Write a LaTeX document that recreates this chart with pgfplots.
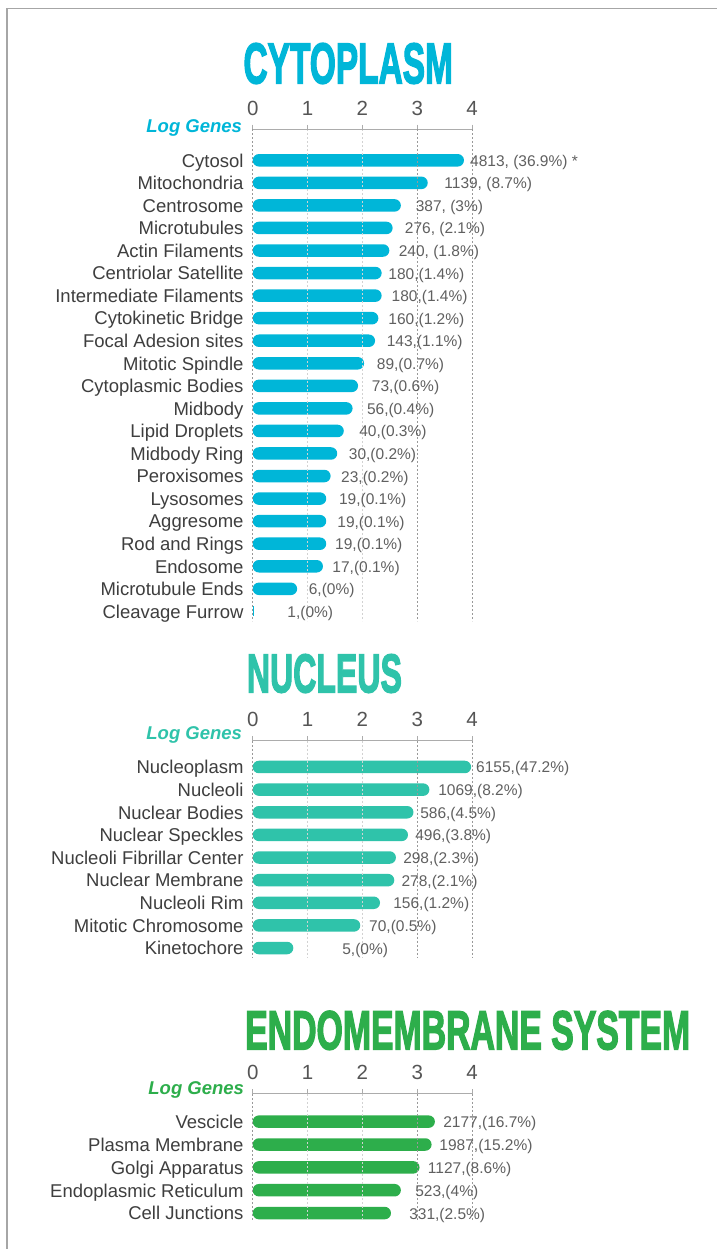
\documentclass[border=0pt]{standalone}
\usepackage{fontspec}
\setmainfont{Liberation Sans}
\usepackage{graphicx}
\usepackage{pgfplots}
\pgfplotsset{compat=1.18}
\definecolor{cyto}{RGB}{0,182,216}
\definecolor{nucl}{RGB}{47,195,170}
\definecolor{endo}{RGB}{45,174,75}
\definecolor{lab}{RGB}{62,62,62}
\definecolor{val}{RGB}{96,96,96}
\definecolor{tk}{RGB}{85,85,85}
\pgfplotsset{
 organelle/.style={
   scale only axis, width=219.5pt, xmin=0, xmax=4, y dir=reverse,
   axis x line*=top, axis y line*=left,
   y axis line style={draw=none}, ytick style={draw=none},
   x axis line style={draw=gray!65, line width=1pt},
   xtick={0,1,2,3,4}, xticklabels={0,1,2,3,4},
   xtick style={draw=gray!65, line width=0.8pt},
   tick align=outside, major tick length=4.5pt,
   xticklabel style={font=\fontsize{20.5}{20.5}\selectfont, text=tk, yshift=6pt},
   xmajorgrids, major grid style={dash pattern=on 2pt off 2pt, gray!35, line width=0.7pt},
   extra x ticks={0,3,4}, extra x tick labels={},
   extra x tick style={major grid style={dash pattern=on 2pt off 2pt, gray!80, line width=0.7pt}},
   yticklabel style={font=\fontsize{18.5}{18.5}\selectfont, text=lab, anchor=base east, inner sep=0pt, xshift=-4.5pt, yshift=-6.8pt},
   axis on top, clip=false, anchor=north west,
 },
 vals/.style={draw=none, mark=none, nodes near coords, point meta=explicit symbolic,
   every node near coord/.style={anchor=base west, inner sep=0pt, yshift=-6pt, font=\fontsize{15.5}{15.5}\selectfont, text=val}},
 bars/.style={xbar, bar width=12.5pt, draw=none, rounded corners=6.2pt},
}
\begin{document}
\begin{tikzpicture}
\useasboundingbox (0,0) rectangle (717pt,1249pt);
\fill[white] (0,0) rectangle (717pt,1249pt);
\draw[gray!70, line width=1.3pt] (7pt,0) -- (7pt,1240.5pt) -- (717pt,1240.5pt);

% titles
\node[anchor=south west, inner sep=0pt, text=cyto] at (243.3pt,1165pt)
  {\resizebox{209.4pt}{40pt}{\addfontfeature{FakeBold=3}\bfseries CYTOPLASM}};
\node[anchor=south west, inner sep=0pt, text=nucl] at (246.7pt,556pt)
  {\resizebox{155pt}{38pt}{\addfontfeature{FakeBold=3}\bfseries NUCLEUS}};
\node[anchor=south west, inner sep=0pt, text=endo] at (245pt,199pt)
  {\resizebox{445pt}{38.3pt}{\addfontfeature{FakeBold=3}\bfseries ENDOMEMBRANE SYSTEM}};

% ---------------- CYTOPLASM
\begin{axis}[organelle, at={(252.7pt,1119.7pt)}, height=492pt, ymin=-1.375, ymax=20.44,
  ytick={0,...,20},
  yticklabels={Cytosol,Mitochondria,Centrosome,Microtubules,Actin Filaments,Centriolar Satellite,Intermediate Filaments,Cytokinetic Bridge,Focal Adesion sites,Mitotic Spindle,Cytoplasmic Bodies,Midbody,Lipid Droplets,Midbody Ring,Peroxisomes,Lysosomes,Aggresome,Rod and Rings,Endosome,Microtubule Ends,Cleavage Furrow}]
\addplot[bars, fill=cyto] coordinates {
 (3.85,0) (3.19,1) (2.70,2) (2.55,3) (2.49,4) (2.35,5) (2.35,6) (2.29,7) (2.23,8) (2.03,9)
 (1.92,10) (1.82,11) (1.66,12) (1.54,13) (1.42,14) (1.34,15) (1.34,16) (1.34,17) (1.28,18) (0.81,19)};
\addplot[xbar, bar width=10pt, draw=none, fill=cyto] coordinates {(0.025,20)};
\addplot[vals] coordinates {
 (3.96,0) [{4813, (36.9\%) *}]
 (3.49,1) [{1139, (8.7\%)}]
 (2.97,2) [{387, (3\%)}]
 (2.77,3) [{276, (2.1\%)}]
 (2.66,4) [{240, (1.8\%)}]
 (2.47,5) [{180,(1.4\%)}]
 (2.53,6) [{180,(1.4\%)}]
 (2.47,7) [{160,(1.2\%)}]
 (2.44,8) [{143,(1.1\%)}]
 (2.26,9) [{89,(0.7\%)}]
 (2.17,10) [{73,(0.6\%)}]
 (2.08,11) [{56,(0.4\%)}]
 (1.94,12) [{40,(0.3\%)}]
 (1.75,13) [{30,(0.2\%)}]
 (1.61,14) [{23,(0.2\%)}]
 (1.57,15) [{19,(0.1\%)}]
 (1.54,16) [{19,(0.1\%)}]
 (1.50,17) [{19,(0.1\%)}]
 (1.45,18) [{17,(0.1\%)}]
 (1.02,19) [{6,(0\%)}]
 (0.63,20) [{1,(0\%)}]
};
\node[anchor=base east, inner sep=0pt, text=cyto, font=\fontsize{18.5}{18.5}\selectfont\bfseries\itshape]
  at (axis cs:0,-1.375) [xshift=-10.5pt, yshift=-3pt] {Log Genes};
\end{axis}

% ---------------- NUCLEUS
\begin{axis}[organelle, at={(252.7pt,508pt)}, height=217pt, ymin=-1.149, ymax=8.44,
  ytick={0,...,8},
  yticklabels={Nucleoplasm,Nucleoli,Nuclear Bodies,Nuclear Speckles,Nucleoli Fibrillar Center,Nuclear Membrane,Nucleoli Rim,Mitotic Chromosome,Kinetochore}]
\addplot[bars, fill=nucl] coordinates {
 (3.98,0) (3.22,1) (2.93,2) (2.83,3) (2.61,4) (2.58,5) (2.32,6) (1.96,7) (0.74,8)};
\addplot[vals] coordinates {
 (4.07,0) [{6155,(47.2\%)}]
 (3.38,1) [{1069,(8.2\%)}]
 (3.05,2) [{586,(4.5\%)}]
 (2.96,3) [{496,(3.8\%)}]
 (2.74,4) [{298,(2.3\%)}]
 (2.71,5) [{278,(2.1\%)}]
 (2.56,6) [{156,(1.2\%)}]
 (2.12,7) [{70,(0.5\%)}]
 (1.63,8) [{5,(0\%)}]
};
\node[anchor=base east, inner sep=0pt, text=nucl, font=\fontsize{18.5}{18.5}\selectfont\bfseries\itshape]
  at (axis cs:0,-1.149) [xshift=-10.5pt, yshift=1pt] {Log Genes};
\end{axis}

% ---------------- ENDOMEMBRANE
\begin{axis}[organelle, at={(252.7pt,155pt)}, height=128pt, ymin=-1.21, ymax=4.39,
  ytick={0,...,4},
  yticklabels={Vescicle,Plasma Membrane,Golgi Apparatus,Endoplasmic Reticulum,Cell Junctions}]
\addplot[bars, fill=endo] coordinates {
 (3.32,0) (3.26,1) (3.04,2) (2.70,3) (2.52,4)};
\addplot[vals] coordinates {
 (3.47,0) [{2177,(16.7\%)}]
 (3.40,1) [{1987,(15.2\%)}]
 (3.19,2) [{1127,(8.6\%)}]
 (2.96,3) [{523,(4\%)}]
 (2.85,4) [{331,(2.5\%)}]
};
\node[anchor=base east, inner sep=0pt, text=endo, font=\fontsize{18.5}{18.5}\selectfont\bfseries\itshape]
  at (axis cs:0,-1.21) [xshift=-8.5pt, yshift=-1pt] {Log Genes};
\end{axis}
\end{tikzpicture}
\end{document}
